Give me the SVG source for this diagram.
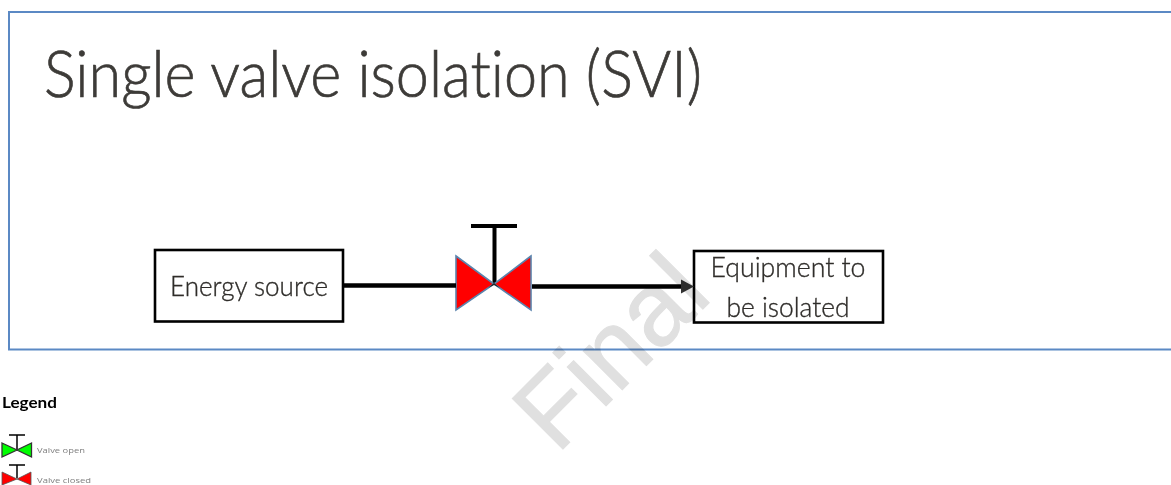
<svg xmlns="http://www.w3.org/2000/svg" width="1171" height="485" viewBox="0 0 1171 485">
<style>
text{font-variant-ligatures:none}
.box{fill:#fff;stroke:#000;stroke-width:2.6}
.lbl{font-family:"Lato","Open Sans",sans-serif;font-weight:300;font-size:27px;fill:#2f2d2a;stroke:#2f2d2a;stroke-width:.35;text-anchor:middle}
.v{stroke:#5b84ad;stroke-width:1.6;stroke-linejoin:miter}
.stem{stroke:#000;fill:none}
.sm{font-family:"Open Sans","Noto Sans",sans-serif;font-size:8px;fill:#7f7f7f}
</style>
<rect width="1171" height="485" fill="#fff"/>
<rect id="frame" x="9" y="12" width="1175" height="337.500" fill="none" stroke="#5b89c4" stroke-width="2"/>
<text id="title" x="44" y="97" font-family="Lato,'Open Sans',sans-serif" font-weight="300" font-size="66" fill="#3d3b38" stroke="#3d3b38" stroke-width="0.700" textLength="658" lengthAdjust="spacingAndGlyphs">Single valve isolation (SVI)</text>
<g id="source">
<rect class="box" x="155" y="250" width="188" height="71.500"/>
<text class="lbl" x="249" y="296" textLength="158" lengthAdjust="spacingAndGlyphs">Energy source</text>
</g>
<g id="valve">
<path class="stem" stroke-width="4" d="M471,226H517M494.500,226V283"/>
<path class="v" fill="#f00" d="M456,256L494,284L456,310z"/>
<path class="v" fill="#f00" d="M531,256L494,284L531,310z"/>
<path d="M488,288L494,283L500,288L494,285z" fill="#222"/>
</g>
<g id="equipment">
<rect class="box" x="694" y="251" width="189" height="71.500"/>
<text class="lbl" x="788" y="277" textLength="155" lengthAdjust="spacingAndGlyphs">Equipment to</text>
<text class="lbl" x="788" y="317" textLength="123" lengthAdjust="spacingAndGlyphs">be isolated</text>
</g>
<g id="connectors">
<path d="M344,285.500H456" stroke="#000" stroke-width="4.500" fill="none"/>
<path d="M532,286.500H684" stroke="#000" stroke-width="4.500" fill="none"/>
<path d="M681,279.500L694,286.500L681,293.500z" fill="#333"/>
</g>
<text id="watermark" transform="translate(557,455) rotate(-45)" font-family="'Liberation Sans',sans-serif" font-size="104" fill="#e0e0e0" stroke="#e0e0e0" stroke-width="1" style="mix-blend-mode:multiply" textLength="222" lengthAdjust="spacingAndGlyphs">Final</text>
<text id="legend" x="2" y="408" font-family="Lato,'Open Sans',sans-serif" font-size="15.500" font-weight="700" fill="#000" textLength="55" lengthAdjust="spacingAndGlyphs">Legend</text>
<g id="valve-open">
<path class="stem" stroke-width="1.500" d="M9,435H25M17,435V449"/>
<path fill="#0f0" stroke="#333" stroke-width="1.300" d="M2,443L17,450L2,457z"/>
<path fill="#0f0" stroke="#333" stroke-width="1.300" d="M31.500,443L17,450L31.500,457z"/>
<text class="sm" x="37" y="453" textLength="48" lengthAdjust="spacingAndGlyphs">Valve open</text>
</g>
<g id="valve-closed">
<path class="stem" stroke-width="1.500" d="M9,465H25M17,465V478"/>
<path fill="#f00" stroke="#555" stroke-width="0.800" d="M2,472L17,479L2,485z"/>
<path fill="#f00" stroke="#555" stroke-width="0.800" d="M31,472L17,479L31,485z"/>
<text class="sm" x="37" y="483" textLength="54" lengthAdjust="spacingAndGlyphs">Valve closed</text>
</g>
</svg>
